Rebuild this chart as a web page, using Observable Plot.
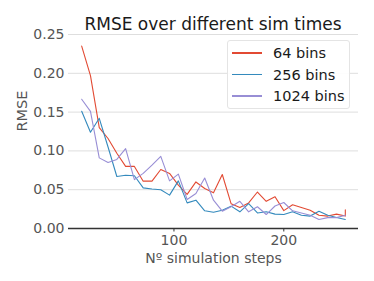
<!DOCTYPE html>
<html>
<head>
<meta charset="utf-8">
<script src="https://cdn.jsdelivr.net/npm/d3@7"></script>
<script src="https://cdn.jsdelivr.net/npm/@observablehq/plot@0.6"></script>
<style>
  html, body { margin: 0; padding: 0; background: #fff; }
  #wrap { position: relative; width: 374px; height: 281px; font-family: "DejaVu Sans", sans-serif; }
  #title { position: absolute; left: 28px; width: 370px; top: 13px; line-height: 22px; text-align: center; font-size: 17px; color: #1a1a1a; }
  #legend { position: absolute; left: 227px; top: 40px; width: 123px; height: 69px; box-sizing: border-box;
            background: rgba(255,255,255,0.9); border: 1px solid #e4e4e4; border-radius: 3px; font-size: 14.5px; color: #1a1a1a; }
  .row { position: absolute; left: 4px; height: 20px; line-height: 20px; display: flex; align-items: center; white-space: nowrap; }
  .sw { width: 30px; height: 1.2px; margin-right: 11px; }
</style>
</head>
<body>
<div id="wrap">
  <div id="chart"></div>
  <div id="title">RMSE over different sim times</div>
  <div id="legend"></div>
</div>
<script>
const steps = [16,24,32,40,48,56,64,72,80,88,96,104,112,120,128,136,144,152,160,168,176,184,192,200,208,216,224,232,240,248,256];
const stepsRed = steps.concat([256]);
const seriesNames = ["64 bins", "256 bins", "1024 bins"];
const seriesColors = ["#E24A33", "#348ABD", "#988ED5"];
const rmse64 = [0.235,0.197,0.130,0.116,0.097,0.080,0.080,0.061,0.061,0.076,0.071,0.056,0.044,0.060,0.0515,0.046,0.0696,0.032,0.027,0.033,0.047,0.035,0.041,0.023,0.0305,0.027,0.0236,0.017,0.016,0.0185,0.016,0.024];
const rmse256 = [0.151,0.124,0.142,0.105,0.067,0.0687,0.068,0.0524,0.051,0.050,0.043,0.0614,0.033,0.0365,0.0228,0.021,0.0236,0.0288,0.0215,0.032,0.020,0.0215,0.0185,0.018,0.0215,0.017,0.016,0.0223,0.017,0.0142,0.0116];
const rmse1024 = [0.1666,0.151,0.091,0.085,0.089,0.103,0.063,0.071,0.0816,0.093,0.0614,0.070,0.0374,0.045,0.065,0.0365,0.0223,0.028,0.035,0.0215,0.028,0.018,0.029,0.0335,0.0228,0.020,0.017,0.0116,0.014,0.014,0.017];
const yTicks = [0, 0.05, 0.10, 0.15, 0.20, 0.25];
const xTicks = [100, 200];

const rows = [];
rmse64.forEach((v, i) => rows.push({s: seriesNames[0], x: stepsRed[i], y: v}));
rmse256.forEach((v, i) => rows.push({s: seriesNames[1], x: steps[i], y: v}));
rmse1024.forEach((v, i) => rows.push({s: seriesNames[2], x: steps[i], y: v}));

const chart = Plot.plot({
  width: 374,
  height: 281,
  marginLeft: 68,
  marginRight: 16,
  marginTop: 34,
  marginBottom: 53,
  style: { fontFamily: "DejaVu Sans, sans-serif", fontSize: "14px", color: "#555", background: "transparent" },
  x: { domain: [4, 268] },
  y: { domain: [0, 0.25] },
  color: { domain: seriesNames, range: seriesColors },
  marks: [
    Plot.ruleY(yTicks.slice(1), { stroke: "#dedede", strokeWidth: 1 }),
    Plot.axisY({ ticks: yTicks, tickFormat: ".2f", tickSize: 0, tickPadding: 4, fontSize: 14,
                 label: null }),
    Plot.text(["RMSE"], { frameAnchor: "left", rotate: -90, dx: -46, fontSize: 14.5, fill: "#555" }),
    Plot.axisX({ ticks: xTicks, tickSize: 3.5, tickPadding: 3, stroke: "#333", fontSize: 14,
                 label: "Nº simulation steps", labelAnchor: "center", labelOffset: 34, labelArrow: "none" }),
    Plot.line(rows, { x: "x", y: "y", z: "s", stroke: "s", strokeWidth: 1.1 }),
    Plot.ruleY([0], { stroke: "#333", strokeWidth: 1.3 })
  ]
});
document.getElementById("chart").appendChild(chart);

const legend = document.getElementById("legend");
seriesNames.forEach((n, i) => {
  const r = document.createElement("div");
  r.className = "row";
  r.style.top = (2 + i * 21.5) + "px";
  r.innerHTML = `<span class="sw" style="background:${seriesColors[i]}"></span><span>${n}</span>`;
  legend.appendChild(r);
});
</script>
</body>
</html>
